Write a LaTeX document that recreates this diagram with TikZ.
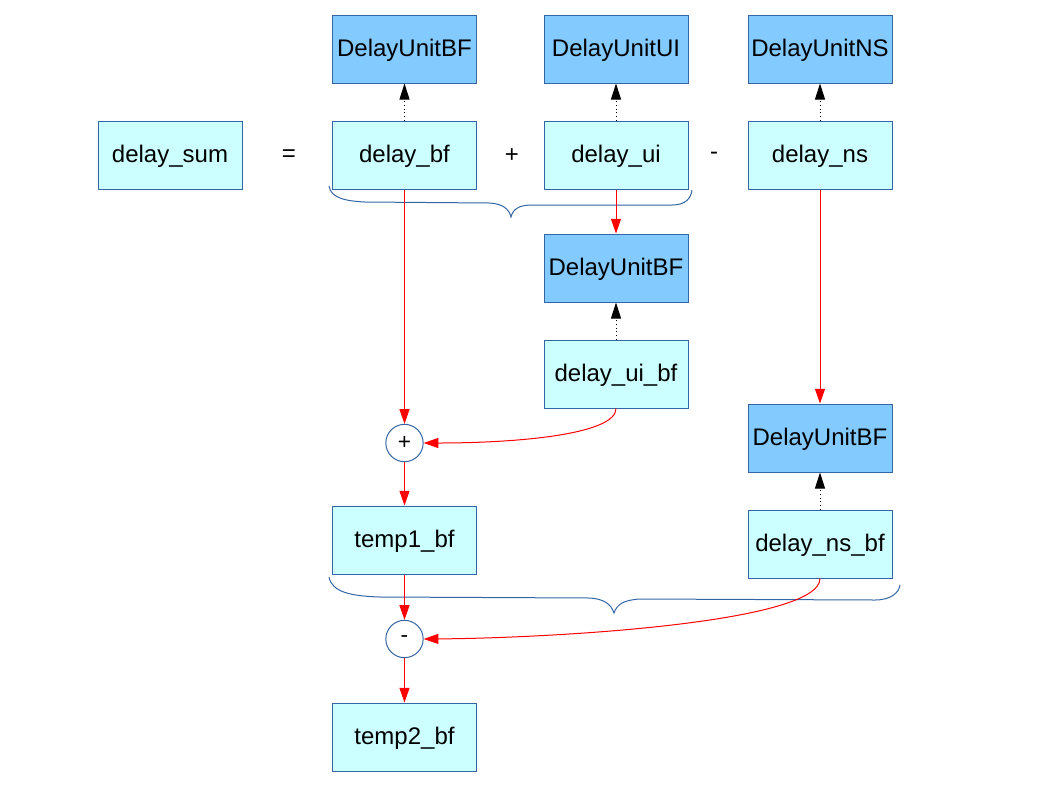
\documentclass[tikz,border=0pt]{standalone}
\usepackage{fontspec}
\setmainfont{Liberation Sans}
\usetikzlibrary{arrows.meta}
\definecolor{lcyan}{HTML}{CCFFFF}
\definecolor{dblue}{HTML}{83CAFF}
\definecolor{bord}{HTML}{3465A4}
\definecolor{ared}{HTML}{FF0000}
\tikzset{
  vbox/.style={draw=bord, line width=0.75pt, fill=lcyan, minimum width=108pt, minimum height=51pt, inner sep=0pt, text height=15pt, text depth=3.5pt, font=\fontsize{18}{21}\selectfont},
  ubox/.style={vbox, fill=dblue},
  opnode/.style={circle, draw=bord, line width=0.75pt, fill=white, minimum size=28pt, inner sep=0pt, font=\fontsize{17}{20}\selectfont},
  optext/.style={inner sep=0pt, font=\fontsize{18}{21}\selectfont},
  redarr/.style={draw=ared, line width=0.75pt, -{Triangle[length=11pt,width=7.5pt]}},
  blkarr/.style={draw=black, line width=0.75pt, dotted, -{Triangle[length=12pt,width=7.5pt,fill=black]}},
  bracepath/.style={draw=bord, line width=0.75pt}
}
\begin{document}
\begin{tikzpicture}[x=0.75pt,y=-0.75pt]
\useasboundingbox (0,0) rectangle (1058,794);
% top row
\node[vbox] (sum) at (170,155) {delay\_sum};
\node[optext] (eq) at (289,156) {=};
\node[vbox] (bf) at (404.5,155) {delay\_bf};
\node[optext] (plus) at (512,156) {+};
\node[vbox] (ui) at (616,155) {delay\_ui};
\node[optext] (minus) at (714,156) {-};
\node[vbox] (ns) at (820,155) {delay\_ns};
% units top
\node[ubox] (ubf) at (404.5,49) {DelayUnitBF};
\node[ubox] (uui) at (616,49) {DelayUnitUI};
\node[ubox] (uns) at (820,49) {DelayUnitNS};
% middle
\node[ubox] (ubf2) at (616,268) {DelayUnitBF};
\node[vbox] (uibf) at (616,374) {delay\_ui\_bf};
\node[ubox] (ubf3) at (820,438) {DelayUnitBF};
\node[vbox] (nsbf) at (820,544) {delay\_ns\_bf};
% ops
\node[opnode] (add) at (404.5,443) {+};
\node[vbox] (t1) at (404.5,540) {temp1\_bf};
\node[opnode] (sub) at (404.5,639) {-};
\node[vbox] (t2) at (404.5,737) {temp2\_bf};
% braces
\draw[bracepath] (329,186) .. controls (331,198) and (345,201) .. (365,202)
  -- (490,203) .. controls (503,204) and (509,209) .. (511,217)
  .. controls (513,209) and (519,205) .. (532,205)
  -- (672,205) .. controls (686,205) and (691,198) .. (692,190);
\draw[bracepath] (329,577) .. controls (332,592) and (350,596) .. (380,597)
  -- (590,598) .. controls (604,599) and (611,604) .. (614,613)
  .. controls (617,604) and (624,600) .. (640,599)
  -- (875,600) .. controls (892,600) and (899,592) .. (900,585);
% dotted arrows to units
\draw[blkarr] (bf) -- (ubf);
\draw[blkarr] (ui) -- (uui);
\draw[blkarr] (ns) -- (uns);
\draw[blkarr] (uibf) -- (ubf2);
\draw[blkarr] (nsbf) -- (ubf3);
% red arrows
\draw[redarr] (bf) -- (add);
\draw[redarr] (ui) -- (ubf2);
\draw[redarr] (ns) -- (ubf3);
\draw[redarr] (uibf.south) .. controls (616,434) and (520,443) .. (add.east);
\draw[redarr] (add) -- (t1);
\draw[redarr] (t1) -- (sub);
\draw[redarr] (nsbf.south) .. controls (820,622) and (560,638) .. (sub.east);
\draw[redarr] (sub) -- (t2);
\end{tikzpicture}
\end{document}
